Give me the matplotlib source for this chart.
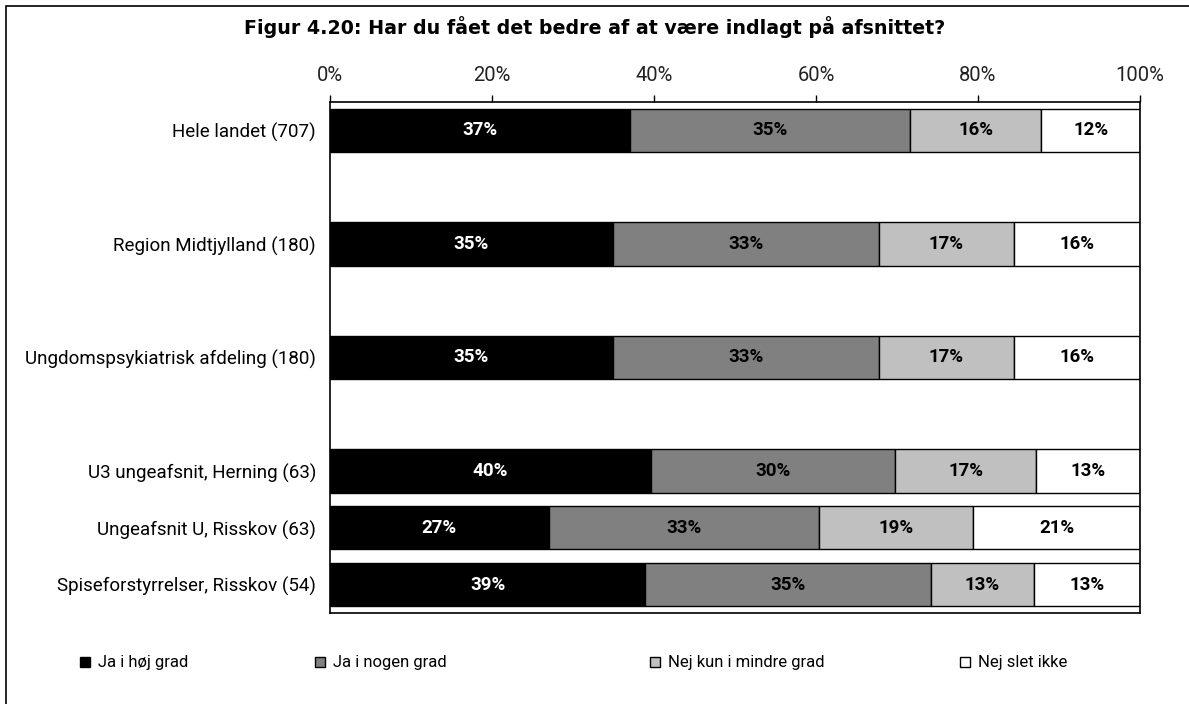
import matplotlib
matplotlib.use('Agg')
import matplotlib.pyplot as plt
from matplotlib.lines import Line2D
from matplotlib.patches import Rectangle
import numpy as np

# data
categories = ['Hele landet (707)', 'Region Midtjylland (180)', 'Ungdomspsykiatrisk afdeling (180)',
              'U3 ungeafsnit, Herning (63)', 'Ungeafsnit U, Risskov (63)', 'Spiseforstyrrelser, Risskov (54)']
row_pos = [0, 2, 4, 6, 7, 8]
series = ['Ja i høj grad', 'Ja i nogen grad', 'Nej kun i mindre grad', 'Nej slet ikke']
ja_hoj = [37.0, 34.9, 34.9, 39.6, 27.0, 38.9]
ja_nogen = [34.6, 32.9, 32.9, 30.2, 33.4, 35.3]
nej_mindre = [16.2, 16.6, 16.6, 17.4, 19.0, 12.7]
nej_slet = [12.2, 15.6, 15.6, 12.8, 20.6, 13.1]
tick_vals = [0, 20, 40, 60, 80, 100]

colors = ['#000000', '#808080', '#c0c0c0', '#ffffff']
text_colors = ['white', 'black', 'black', 'black']

plt.rcParams['font.family'] = ['Roboto', 'DejaVu Sans']

W, H = 1189, 704
fig = plt.figure(figsize=(W / 100, H / 100), dpi=100)
ax = fig.add_axes([330 / W, 1 - 613 / H, (1140 - 330) / W, (613 - 102) / H])

left = np.zeros(len(categories))
for vals, c, tc in zip([ja_hoj, ja_nogen, nej_mindre, nej_slet], colors, text_colors):
    vals = np.array(vals)
    ax.barh(row_pos, vals, left=left, height=0.76, color=c, edgecolor='black', linewidth=1)
    for y, l, v in zip(row_pos, left, vals):
        ax.text(l + v / 2, y, '%.0f%%' % v, ha='center', va='center', color=tc,
                fontsize=13.5, fontweight='bold')
    left = left + vals

ax.set_xlim(0, 100)
ax.set_ylim(8.5, -0.5)
ax.set_yticks(row_pos)
ax.set_yticklabels(categories, fontsize=13.5)
ax.tick_params(axis='y', length=0, pad=10)
ax.xaxis.tick_top()
ax.set_xticks(tick_vals)
ax.set_xticklabels(['%d%%' % t for t in tick_vals], fontsize=14.5, color='#222222')
ax.tick_params(axis='x', length=5, width=1, pad=7, direction='out')
for s in ax.spines.values():
    s.set_linewidth(1.2)

fig.text(0.5, 1 - 27 / H, 'Figur 4.20: Har du fået det bedre af at være indlagt på afsnittet?',
         ha='center', va='center', fontsize=13.7, fontweight='bold', family='DejaVu Sans')

# legend entries spread like the original
leg_x = [78, 313, 648, 958]
for lab, c, x in zip(series, colors, leg_x):
    h = Line2D([], [], marker='s', linestyle='none', markersize=7,
               markerfacecolor=c, markeredgecolor='black', markeredgewidth=1)
    fig.legend([h], [lab], loc='center left', bbox_to_anchor=(x / W, 1 - 663 / H),
               frameon=False, fontsize=12, handlelength=0.8, handletextpad=0.4,
               borderpad=0, borderaxespad=0)

# outer border (right/bottom lie outside the image)
fig.patches.append(Rectangle((6 / W, -0.1), 1.2, 1 - 6 / H + 0.1, transform=fig.transFigure,
                             fill=False, edgecolor='black', linewidth=1.2))

fig.savefig('out.png', dpi=100)
